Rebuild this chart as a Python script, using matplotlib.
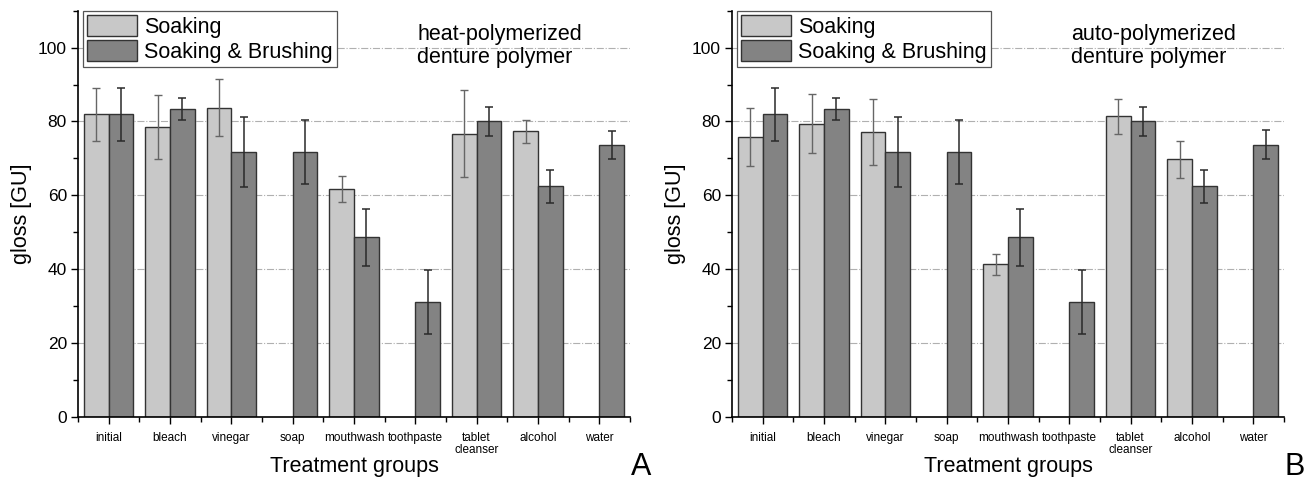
import numpy as np
import matplotlib
matplotlib.use("Agg")
import matplotlib.pyplot as plt
from matplotlib.ticker import MultipleLocator

plt.rcParams['font.family'] = ['Liberation Sans', 'DejaVu Sans']

nan = np.nan

categories = ["initial", "bleach", "vinegar", "soap", "mouthwash", "toothpaste",
              "tablet\ncleanser", "alcohol", "water"]

# panel A - heat-polymerized
heat_soak = [82.0, 78.5, 83.7, nan, 61.6, nan, 76.7, 77.3, nan]
heat_soak_err = [7.2, 8.8, 7.7, nan, 3.5, nan, 11.8, 3.1, nan]
heat_brush = [82.0, 83.3, 71.7, 71.8, 48.6, 31.0, 80.0, 62.4, 73.6]
heat_brush_err = [7.2, 3.0, 9.4, 8.7, 7.7, 8.7, 4.0, 4.4, 3.9]

# panel B - auto-polymerized
auto_soak = [75.8, 79.4, 77.1, nan, 41.3, nan, 81.4, 69.7, nan]
auto_soak_err = [7.9, 8.0, 9.0, nan, 2.8, nan, 4.7, 4.9, nan]
auto_brush = [82.0, 83.3, 71.7, 71.8, 48.6, 31.0, 80.0, 62.4, 73.7]
auto_brush_err = [7.2, 3.0, 9.4, 8.7, 7.7, 8.7, 4.0, 4.4, 4.0]

light = "#c8c8c8"
dark = "#838383"


def draw_panel(ax, soak, soak_err, brush, brush_err, note, letter):
    x = np.arange(1, len(categories) + 1)
    w = 0.4

    ax.bar(x - w / 2, soak, width=w, color=light, edgecolor="#333333",
           linewidth=1.0, label="Soaking", zorder=2)
    ax.bar(x + w / 2, brush, width=w, color=dark, edgecolor="#333333",
           linewidth=1.0, label="Soaking & Brushing", zorder=2)
    ax.errorbar(x - w / 2, soak, yerr=soak_err, fmt="none", ecolor="#666666",
                elinewidth=1.0, capsize=3, capthick=1.0, zorder=3)
    ax.errorbar(x + w / 2, brush, yerr=brush_err, fmt="none", ecolor="#2a2a2a",
                elinewidth=1.1, capsize=3, capthick=1.1, zorder=3)

    ax.set_xlim(0.5, len(categories) + 0.5)
    ax.set_ylim(0, 110)
    ax.set_xticks(x)
    ax.set_xticklabels(categories, fontsize=8.5, linespacing=0.95)
    ax.set_xticks(np.arange(0.5, len(categories) + 1, 1), minor=True)
    ax.set_yticks([0, 20, 40, 60, 80, 100])
    ax.yaxis.set_minor_locator(MultipleLocator(10))
    ax.tick_params(axis="y", which="major", length=5, width=1, labelsize=12.5, pad=3)
    ax.tick_params(axis="y", which="minor", length=3.5, width=1)
    ax.tick_params(axis="x", which="major", length=5, width=1, pad=6)
    ax.tick_params(axis="x", which="minor", length=3.5, width=1)

    for y in [20, 40, 60, 80, 100]:
        ax.axhline(y, color="#b0b0b0", linestyle="-.", linewidth=0.8, zorder=1)

    ax.spines["top"].set_visible(False)
    ax.spines["right"].set_visible(False)
    ax.spines["left"].set_linewidth(1.2)
    ax.spines["bottom"].set_linewidth(1.2)

    ax.set_ylabel("gloss [GU]", fontsize=15.5, labelpad=4)
    ax.set_xlabel("Treatment groups", fontsize=15.5, labelpad=0.5)

    leg = ax.legend(loc="upper left", bbox_to_anchor=(0.009, 1.0), borderaxespad=0,
                    fontsize=15.5, handlelength=2.3, handleheight=1.1,
                    handletextpad=0.35, labelspacing=0.12, borderpad=0.2,
                    fancybox=False, framealpha=1, edgecolor="#555555")
    leg.get_frame().set_linewidth(0.9)

    ax.text(0.615, 0.968, note, transform=ax.transAxes, ha="left", va="top",
            fontsize=15.5, linespacing=1.15)
    ax.text(1.02, -0.125, letter, transform=ax.transAxes, ha="center",
            va="center", fontsize=22)


fig = plt.figure(figsize=(13.13, 4.83), dpi=100)
ax1 = fig.add_axes([0.0594, 0.1373, 0.4204, 0.8404])
ax2 = fig.add_axes([0.5575, 0.1373, 0.4204, 0.8404])

draw_panel(ax1, heat_soak, heat_soak_err, heat_brush, heat_brush_err,
           "heat-polymerized\ndenture polymer", "A")
draw_panel(ax2, auto_soak, auto_soak_err, auto_brush, auto_brush_err,
           "auto-polymerized\ndenture polymer", "B")

fig.savefig("out.png", dpi=100)
